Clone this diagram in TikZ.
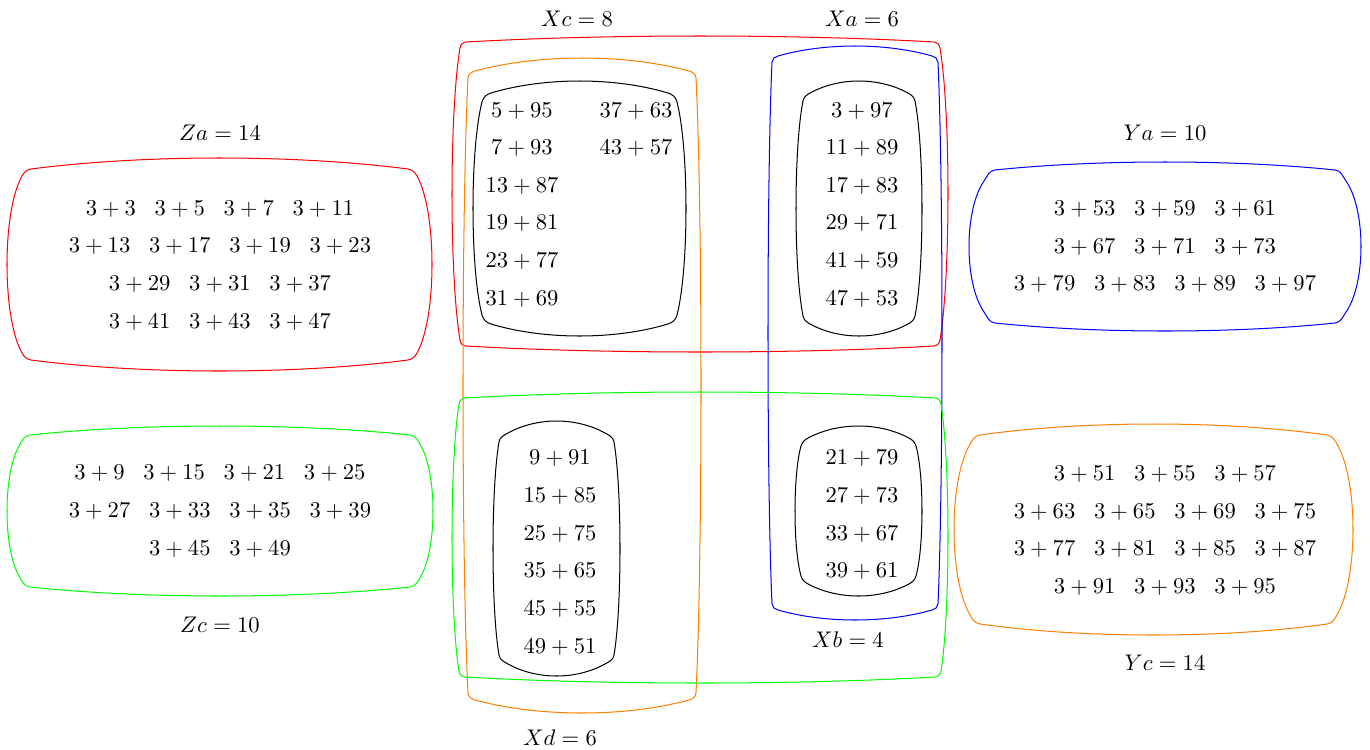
\documentclass[tikz,border=0pt]{standalone}
\newcommand\sgap{\hspace{8.3pt}}
\newcommand\blob[8]{%
 \pgfmathsetmacro\bXl{#2+#6}%
 \pgfmathsetmacro\bXr{#4-#6}%
 \pgfmathsetmacro\bYt{#3+#7}%
 \pgfmathsetmacro\bYb{#5-#7}%
 \pgfmathsetmacro\bLt{\bXr-\bXl-2*#8}%
 \pgfmathsetmacro\bLs{\bYb-\bYt-2*#8}%
 \pgfmathsetmacro\bKv{4*#7/3}%
 \pgfmathsetmacro\bKh{4*#6/3}%
 \pgfmathsetmacro\bC{0.55*#8}%
 \pgfmathsetmacro\bTt{\bLt*0.3}%
 \pgfmathsetmacro\bTs{\bLs*0.22}%
 \pgfmathsetmacro\bNs{10*sqrt((\bKh/10)^2+(\bTs/10)^2)}%
 \pgfmathsetmacro\bNt{10*sqrt((\bKv/10)^2+(\bTt/10)^2)}%
 \pgfmathsetmacro\bAx{\bC*\bKh/\bNs}%
 \pgfmathsetmacro\bAy{\bC*\bTs/\bNs}%
 \pgfmathsetmacro\bBx{\bC*\bTt/\bNt}%
 \pgfmathsetmacro\bBy{\bC*\bKv/\bNt}%
 \draw[#1] (\bXl,\bYt+#8)
  .. controls +(\bAx,-\bAy) and +(-\bBx,\bBy) .. (\bXl+#8,\bYt)
  .. controls +(\bTt,-\bKv) and +(-\bTt,-\bKv) .. (\bXr-#8,\bYt)
  .. controls +(\bBx,\bBy) and +(-\bAx,-\bAy) .. (\bXr,\bYt+#8)
  .. controls +(\bKh,\bTs) and +(\bKh,-\bTs) .. (\bXr,\bYb-#8)
  .. controls +(-\bAx,\bAy) and +(\bBx,-\bBy) .. (\bXr-#8,\bYb)
  .. controls +(-\bTt,\bKv) and +(\bTt,\bKv) .. (\bXl+#8,\bYb)
  .. controls +(-\bBx,-\bBy) and +(\bAx,\bAy) .. (\bXl,\bYb-#8)
  .. controls +(-\bKh,-\bTs) and +(-\bKh,\bTs) .. (\bXl,\bYt+#8) -- cycle;
}
\tikzset{
  lbl/.style={inner sep=0pt, text height=6.44pt, text depth=0pt, anchor=center},
  box/.style={line width=0.45pt},
}
\begin{document}
\begin{tikzpicture}[x=0.4425pt,y=-0.4425pt]
\useasboundingbox (0,0) rectangle (1370,749);
% outer coloured groups
\blob{box,red}{7}{158}{432}{371}{13}{11}{11}
\blob{box,green}{7}{426}{433}{596}{12}{9}{11}
\blob{box,blue}{969}{162}{1361}{331}{15}{8}{11}
\blob{box,orange}{954}{424}{1353}{635}{15}{11}{11}
\blob{box,red}{452}{36}{948}{352}{8}{6}{6}
\blob{box,blue}{768}{46}{942}{620}{4}{10}{6}
\blob{box,orange}{463}{58}{701}{713}{5}{13}{7}
\blob{box,green}{452}{392}{948}{683}{7}{6}{6}
% inner black groups
\blob{box,black}{473}{81}{686}{336}{9}{12}{9}
\blob{box,black}{796}{81}{922}{336}{7}{11}{9}
\blob{box,black}{493}{421}{620}{676}{6}{12}{9}
\blob{box,black}{795}{426}{922}{596}{6}{11}{9}
% labels
\node[lbl] (lZa) at (220,133) {$Za=14$};
\node[lbl] (lZc) at (220,625) {$Zc=10$};
\node[lbl] (lYa) at (1165,133) {$Ya=10$};
\node[lbl] (lYc) at (1165,663) {$Yc=14$};
\node[lbl] (lXc) at (577,19) {$Xc=8$};
\node[lbl] (lXa) at (862,19) {$Xa=6$};
\node[lbl] (lXb) at (848,640) {$Xb=4$};
\node[lbl] (lXd) at (560,738) {$Xd=6$};
% Za
\node[lbl] (za1) at (220,208) {$3+3$\sgap$3+5$\sgap$3+7$\sgap$3+11$};
\node[lbl] (za2) at (220,245) {$3+13$\sgap$3+17$\sgap$3+19$\sgap$3+23$};
\node[lbl] (za3) at (220,283) {$3+29$\sgap$3+31$\sgap$3+37$};
\node[lbl] (za4) at (220,321) {$3+41$\sgap$3+43$\sgap$3+47$};
% Zc
\node[lbl] (zc1) at (220,472) {$3+9$\sgap$3+15$\sgap$3+21$\sgap$3+25$};
\node[lbl] (zc2) at (220,510) {$3+27$\sgap$3+33$\sgap$3+35$\sgap$3+39$};
\node[lbl] (zc3) at (220,548) {$3+45$\sgap$3+49$};
% Ya
\node[lbl] (ya1) at (1165,208) {$3+53$\sgap$3+59$\sgap$3+61$};
\node[lbl] (ya2) at (1165,246) {$3+67$\sgap$3+71$\sgap$3+73$};
\node[lbl] (ya3) at (1165,283) {$3+79$\sgap$3+83$\sgap$3+89$\sgap$3+97$};
% Yc
\node[lbl] (yc1) at (1165,473) {$3+51$\sgap$3+55$\sgap$3+57$};
\node[lbl] (yc2) at (1165,511) {$3+63$\sgap$3+65$\sgap$3+69$\sgap$3+75$};
\node[lbl] (yc3) at (1165,548) {$3+77$\sgap$3+81$\sgap$3+85$\sgap$3+87$};
\node[lbl] (yc4) at (1165,586) {$3+91$\sgap$3+93$\sgap$3+95$};
% Xc inner
\node[lbl] (a1) at (522,110) {$5+95$};
\node[lbl] (a2) at (522,147) {$7+93$};
\node[lbl] (a3) at (522,185) {$13+87$};
\node[lbl] (a4) at (522,222) {$19+81$};
\node[lbl] (a5) at (522,260) {$23+77$};
\node[lbl] (a6) at (522,298) {$31+69$};
\node[lbl] (a7) at (636,110) {$37+63$};
\node[lbl] (a8) at (636,147) {$43+57$};
% Xa inner
\node[lbl] (b1) at (862,110) {$3+97$};
\node[lbl] (b2) at (862,147) {$11+89$};
\node[lbl] (b3) at (862,185) {$17+83$};
\node[lbl] (b4) at (862,222) {$29+71$};
\node[lbl] (b5) at (862,260) {$41+59$};
\node[lbl] (b6) at (862,298) {$47+53$};
% Xd inner
\node[lbl] (c1) at (560,457) {$9+91$};
\node[lbl] (c2) at (560,495) {$15+85$};
\node[lbl] (c3) at (560,533) {$25+75$};
\node[lbl] (c4) at (560,570) {$35+65$};
\node[lbl] (c5) at (560,608) {$45+55$};
\node[lbl] (c6) at (560,646) {$49+51$};
% Xb inner
\node[lbl] (d1) at (862,457) {$21+79$};
\node[lbl] (d2) at (862,495) {$27+73$};
\node[lbl] (d3) at (862,533) {$33+67$};
\node[lbl] (d4) at (862,570) {$39+61$};
\end{tikzpicture}
\end{document}
